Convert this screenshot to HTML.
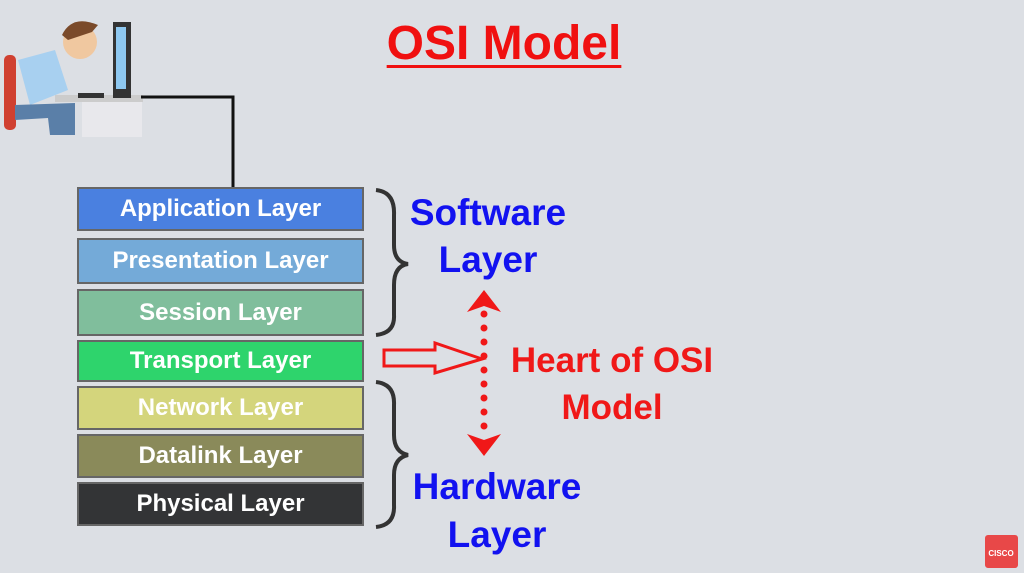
<!DOCTYPE html>
<html><head><style>
body{margin:0;width:1024px;height:573px;background:#dcdfe4;position:relative;overflow:hidden;font-family:"Liberation Sans",sans-serif}
.l{position:absolute;left:77px;width:287px;border:2px solid #666;box-sizing:border-box;color:#fff;font-weight:bold;font-size:24px;display:flex;align-items:center;justify-content:center}
.t{position:absolute;font-weight:bold;text-align:center}
</style></head><body>
<div class="t" style="left:360px;top:16px;width:288px;font-size:48px;color:#f01010;text-decoration:underline;text-decoration-thickness:3px;text-underline-offset:6px">OSI Model</div>
<svg width="1024" height="573" style="position:absolute;left:0;top:0">
<rect x="82" y="95" width="60" height="42" fill="#e8e8ec"/>
<rect x="55" y="95" width="88" height="7" fill="#ccc"/>
<rect x="113" y="22" width="18" height="76" fill="#333"/>
<rect x="116" y="27" width="10" height="62" fill="#8ec8f0"/>
<rect x="4" y="55" width="12" height="75" rx="5" fill="#d04030"/>
<path d="M18 60 L55 50 L68 90 L30 105Z" fill="#a8d0f0"/>
<path d="M15 105 L75 103 L75 135 L50 135 L48 118 L15 120Z" fill="#5a7fa8"/>
<circle cx="80" cy="42" r="17" fill="#f0c8a0"/>
<path d="M62 35 Q72 14 98 25 L92 32 L68 40Z" fill="#7a4a2a"/>
<rect x="78" y="93" width="26" height="5" fill="#333"/>
<polyline points="141,97 233,97 233,190" fill="none" stroke="#111" stroke-width="3"/>
<path d="M376 190 Q395 192 394 215 L394 245 Q394 262 408 264 Q394 266 394 285 L394 315 Q395 333 376 335" fill="none" stroke="#333" stroke-width="4"/>
<path d="M376 382 Q395 384 394 405 L394 435 Q394 452 408 455 Q394 458 394 475 L394 505 Q395 525 376 527" fill="none" stroke="#333" stroke-width="4"/>
<path d="M384 350 L435 350 L435 343 L482 359 L435 373 L435 366 L384 366Z" fill="none" stroke="#f01818" stroke-width="3"/>
<line x1="484" y1="314" x2="484" y2="432" stroke="#f01818" stroke-width="7" stroke-linecap="round" stroke-dasharray="0 14"/>
<path d="M484 290 L501 312 L484 306 L467 312Z" fill="#f01818"/>
<path d="M484 456 L501 434 L484 440 L467 434Z" fill="#f01818"/>
<rect x="985" y="535" width="33" height="33" rx="3" fill="#e84848"/>
<text x="1001" y="556" font-size="8" fill="#fff" text-anchor="middle" font-weight="bold" font-family="Liberation Sans">CISCO</text>
</svg>
<div class="l" style="top:187px;height:44px;background:#4a80e0">Application Layer</div>
<div class="l" style="top:238px;height:46px;background:#74aad8">Presentation Layer</div>
<div class="l" style="top:289px;height:47px;background:#80be9c">Session Layer</div>
<div class="l" style="top:340px;height:42px;background:#2ed46c">Transport Layer</div>
<div class="l" style="top:386px;height:44px;background:#d4d57c">Network Layer</div>
<div class="l" style="top:434px;height:44px;background:#8a8a5a">Datalink Layer</div>
<div class="l" style="top:482px;height:44px;background:#333436">Physical Layer</div>
<div class="t" style="left:388px;top:189px;width:200px;font-size:37px;line-height:47px;color:#1212f0">Software<br>Layer</div>
<div class="t" style="left:392px;top:463px;width:210px;font-size:37px;line-height:48px;color:#1212f0">Hardware<br>Layer</div>
<div class="t" style="left:492px;top:337px;width:240px;font-size:35px;line-height:47px;color:#f01818">Heart of OSI<br>Model</div>
</body></html>
